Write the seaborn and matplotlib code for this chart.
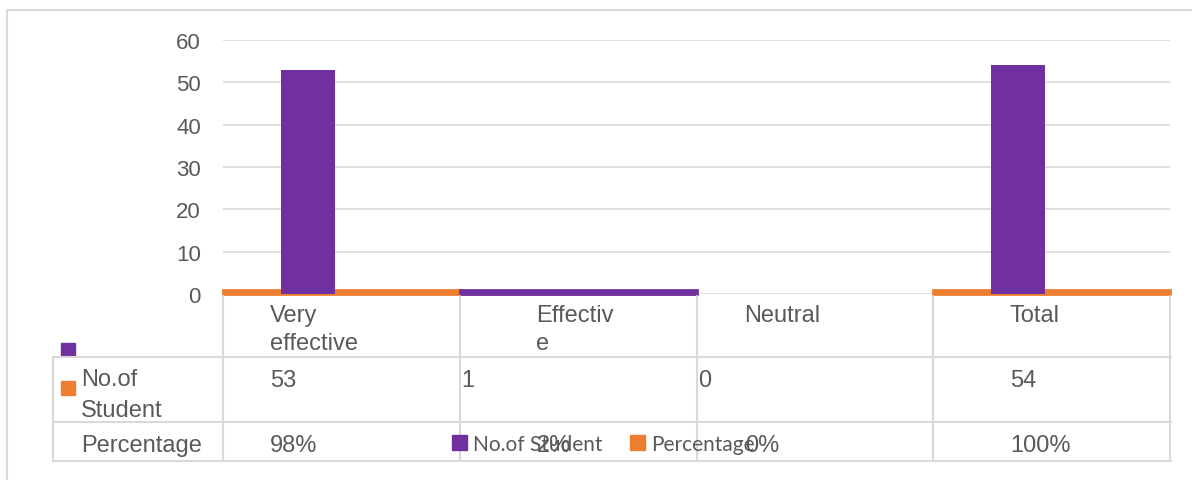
import numpy as np
import pandas as pd
import matplotlib
matplotlib.use("Agg")
import matplotlib.pyplot as plt
from matplotlib.lines import Line2D
from matplotlib.patches import Rectangle
import matplotlib.transforms as mtransforms
import seaborn as sns

# --- data ---
categories = ["Very effective", "Effective", "Neutral", "Total"]
header_lines = [["Very", "effective"], ["Effectiv", "e"], ["Neutral"], ["Total"]]
students = [53, 1, 0, 54]
percentage = [0.98, 0.02, 0.00, 1.00]
series_names = ["No.of Student", "Percentage"]

PURPLE = "#7030A0"
ORANGE = "#ED7D31"
GRID = "#D9D9D9"
TXT = "#595959"

W, H = 1192, 481


def fx(x):
    return x / W


def fy(y):
    return 1 - y / H


sns.set_theme(style="white")
plt.rcParams["font.family"] = ["Liberation Sans", "DejaVu Sans"]

fig = plt.figure(figsize=(W / 100, H / 100), dpi=100)
ax = fig.add_axes([fx(223), fy(295), fx(1170 - 223), (295 - 41) / H])

df = pd.DataFrame({"category": categories, "students": students, "pct": percentage})

# percentage series: plotted on the same axis as fractions, so it is a thin strip
sns.barplot(data=df, x="category", y="pct", order=categories, color=ORANGE,
            width=1.0, errorbar=None, saturation=1, ax=ax,
            edgecolor=ORANGE, linewidth=2)
n_orange = len(ax.patches)

sns.barplot(data=df, x="category", y="students", order=categories, color=PURPLE,
            width=0.228, errorbar=None, saturation=1, ax=ax,
            edgecolor=PURPLE, linewidth=0)
for p in ax.patches[n_orange:]:
    if p.get_height() < 2:
        # near-zero bar rendered across the whole category in the source
        cx = p.get_x() + p.get_width() / 2
        p.set_width(1.0)
        p.set_x(cx - 0.5)
        p.set_linewidth(2)
        p.set_edgecolor(PURPLE)
    else:
        p.set_x(p.get_x() - 0.141)
for p in ax.patches:
    p.set_clip_on(False)
    if p.get_height() == 0:
        p.set_linewidth(0)

ax.set_xlim(-0.5, 3.5)
ax.set_ylim(0, 60)
ax.set_yticks(range(0, 61, 10))
ax.set_xticks([])
ax.set_xlabel("")
ax.set_ylabel("")
ax.yaxis.grid(True, color=GRID, lw=1.2)
ax.set_axisbelow(True)
for s in ax.spines.values():
    s.set_visible(False)
ax.tick_params(axis="y", length=0, pad=16, labelsize=16, labelcolor=TXT)

# --- data table under the plot ---
blend = mtransforms.blended_transform_factory(ax.transData, fig.transFigure)
for xb in np.arange(-0.5, len(categories), 1.0):
    fig.add_artist(Line2D([xb, xb], [fy(297), fy(462)], transform=blend,
                          color=GRID, lw=1.5))
fig.add_artist(Line2D([fx(53), fx(53)], [fy(358), fy(462)], color=GRID, lw=1.5))
for yl in [358, 423, 462]:
    fig.add_artist(Line2D([fx(53), fx(1171)], [fy(yl), fy(yl)], color=GRID, lw=1.5))

tfont = dict(fontsize=17, color=TXT, va="baseline", ha="left")
head_x = [270, 536, 744, 1010]
stud_x = [270, 461, 698, 1010]
pct_x = [270, 537, 745, 1010]
for i in range(len(categories)):
    for j, line in enumerate(header_lines[i]):
        fig.text(fx(head_x[i]), fy(322 + 28 * j), line, **tfont)
    fig.text(fx(stud_x[i]), fy(387), f"{students[i]}", **tfont)
    fig.text(fx(pct_x[i]), fy(452), f"{percentage[i]:.0%}", **tfont)

fig.text(fx(81), fy(386), "No.of", **tfont)
fig.text(fx(81), fy(417), "Student", **tfont)
fig.text(fx(81), fy(452), "Percentage", **tfont)

fig.add_artist(Rectangle((fx(61), fy(357)), fx(14), 13 / H, color=PURPLE))
fig.add_artist(Rectangle((fx(61), fy(396)), fx(14), 14 / H, color=ORANGE))

# legend
handles = [Rectangle((0, 0), 1, 1, color=PURPLE), Rectangle((0, 0), 1, 1, color=ORANGE)]
fig.legend(handles, series_names, loc="center left", bbox_to_anchor=(fx(452), fy(445)),
           ncol=2, frameon=False, borderpad=0, borderaxespad=0,
           handlelength=0.7, handleheight=0.7, handletextpad=0.3, columnspacing=1.35,
           prop={"family": ["Lato", "DejaVu Sans"], "size": 15}, labelcolor=TXT)

# outer chart frame (left and top edges only visible)
fig.add_artist(Line2D([fx(7), fx(7), fx(1192)], [0, fy(11), fy(11)], color=GRID, lw=1.5))

fig.savefig("out.png", dpi=100)
